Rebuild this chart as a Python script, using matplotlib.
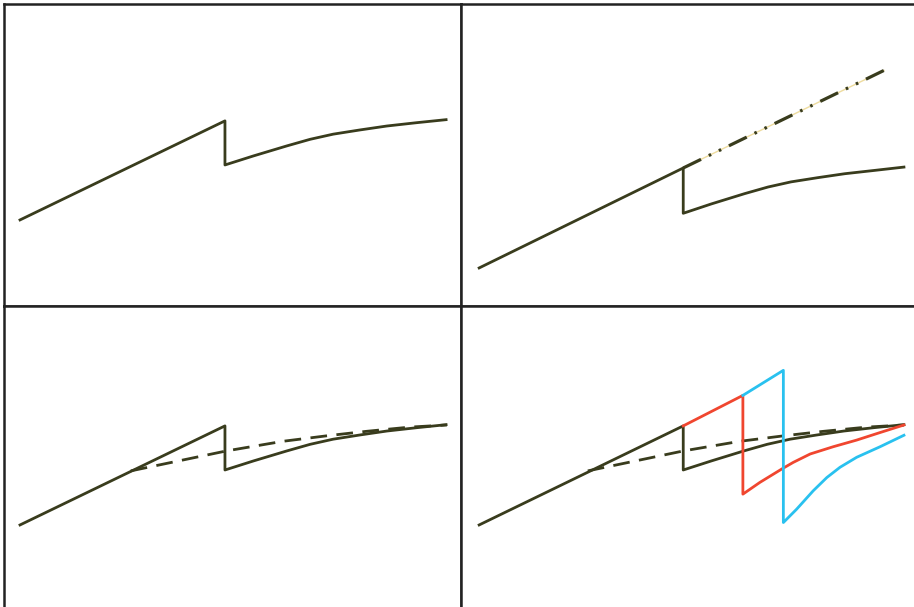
import matplotlib
matplotlib.use('Agg')
import matplotlib.pyplot as plt

# colours
olive = '#393c1d'
red = '#f0462f'
blue = '#29c1ef'
beige = '#eedc9f'
frame = '#222222'

# panel 1 / 3 : linear rise, drop, then concave recovery
base_rise_x = [0.0, 4.81]
base_rise_y = [2.85, 6.13]
base_curve_x = [4.81, 4.81, 5.48, 6.26, 6.81, 7.35, 7.98, 8.61, 9.31, 10.0]
base_curve_y = [6.13, 4.67, 4.97, 5.30, 5.52, 5.69, 5.83, 5.96, 6.07, 6.17]

# panel 2 : same shape, lower, plus projected trend
low_rise_x = [0.05, 4.84]
low_rise_y = [1.26, 4.57]
low_curve_x = [4.84, 4.84, 5.5, 6.28, 6.83, 7.37, 8.0, 8.63, 9.33, 10.02]
low_curve_y = [4.57, 3.07, 3.38, 3.72, 3.94, 4.11, 4.25, 4.38, 4.49, 4.60]
trend_x = [4.84, 9.55]
trend_y = [4.57, 7.80]

# panel 4 : rising line starts a little later
late_rise_x = [0.05, 4.84]
late_rise_y = [2.85, 6.13]
late_curve_x = [4.84, 4.84, 5.5, 6.26, 6.81, 7.35, 7.98, 8.61, 9.31, 10.02]
late_curve_y = [6.13, 4.67, 4.97, 5.30, 5.52, 5.69, 5.83, 5.96, 6.07, 6.17]

# smooth path (dashed) from the rising line to the end
smooth_x = [2.6, 4.84, 6.17, 7.19, 8.13, 9.15, 10.02]
smooth_y = [4.64, 5.30, 5.62, 5.80, 5.95, 6.09, 6.16]

# panel 4 : later drops
red_x = [4.84, 6.24, 6.24, 6.64, 7.15, 7.42, 7.82, 8.36, 8.91, 9.46, 10.02]
red_y = [6.13, 7.14, 3.87, 4.26, 4.70, 4.92, 5.20, 5.44, 5.66, 5.91, 6.16]
blue_x = [6.24, 7.19, 7.19, 7.50, 7.89, 8.21, 8.52, 8.91, 9.46, 10.02]
blue_y = [7.14, 7.97, 2.93, 3.37, 3.98, 4.42, 4.76, 5.09, 5.44, 5.82]

W, H = 914, 607
fig = plt.figure(figsize=(W / 100, H / 100), dpi=100)
fig.patch.set_facecolor('white')

pw, ph = 457, 302
lefts = [4, 461]
tops = [4, 306]
axes = []
for r in range(2):
    for c in range(2):
        ax = fig.add_axes([lefts[c] / W, (H - tops[r] - ph) / H, pw / W, ph / H])
        ax.set_xlim(-0.376, 10.35)
        if r == 0:
            ax.set_ylim(0, 10)
        else:
            ax.set_ylim(0.1, 10.1)
        ax.set_xticks([])
        ax.set_yticks([])
        for s in ax.spines.values():
            s.set_color(frame)
            s.set_linewidth(1.8)
        axes.append(ax)

lw = 2.0
dash = (0, (6.0, 3.4))

ax = axes[0]
ax.plot(base_rise_x + base_curve_x, base_rise_y + base_curve_y, color=olive, lw=lw)

ax = axes[1]
ax.plot(trend_x, trend_y, color=beige, lw=1.0)
ax.plot(trend_x, trend_y, color=olive, lw=2.3,
        linestyle=(0, (6.2, 2.7, 0.8, 2.7, 0.8, 2.7)))
ax.plot(low_rise_x + low_curve_x, low_rise_y + low_curve_y, color=olive, lw=lw)

ax = axes[2]
ax.plot(smooth_x, smooth_y, color=olive, lw=lw, linestyle=dash)
ax.plot(base_rise_x + base_curve_x, base_rise_y + base_curve_y, color=olive, lw=lw)

ax = axes[3]
ax.plot(smooth_x, smooth_y, color=olive, lw=lw, linestyle=dash)
ax.plot(late_rise_x + late_curve_x, late_rise_y + late_curve_y, color=olive, lw=lw)
ax.plot(red_x, red_y, color=red, lw=lw)
ax.plot(blue_x, blue_y, color=blue, lw=lw)

fig.savefig('out.png', dpi=100, facecolor='white')
